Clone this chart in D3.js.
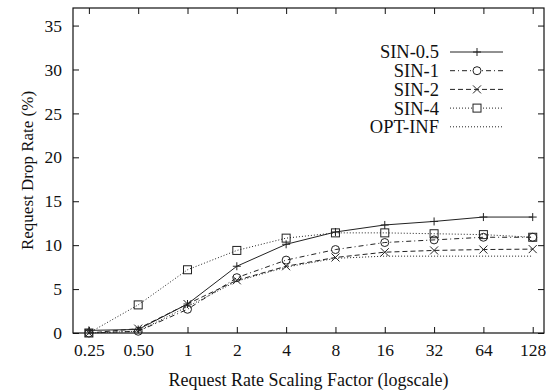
<!DOCTYPE html>
<html>
<head>
<meta charset="utf-8">
<script src="https://cdn.jsdelivr.net/npm/d3@7/dist/d3.min.js"></script>
<style>
  body { margin: 0; background: #fff; }
  svg text { font-family: "Liberation Serif", "DejaVu Serif", serif; fill: #111; }
</style>
</head>
<body>
<svg id="chart" width="546" height="390"></svg>
<script>
// data
const factors = [0.25, 0.5, 1, 2, 4, 8, 16, 32, 64, 128];
const tickLabels = ['0.25', '0.50', '1', '2', '4', '8', '16', '32', '64', '128'];
const sin05 = [0.3, 0.4, 3.3, 7.6, 10.1, 11.5, 12.3, 12.7, 13.2, 13.2];
const sin1 = [0.0, 0.2, 2.7, 6.3, 8.3, 9.5, 10.3, 10.6, 10.9, 10.9];
const sin2 = [0.0, 0.5, 3.3, 6.0, 7.6, 8.6, 9.2, 9.4, 9.5, 9.55];
const sin4 = [0.0, 3.2, 7.2, 9.4, 10.8, 11.4, 11.4, 11.3, 11.2, 10.9];
const optInf = [0.0, 0.2, 3.0, 5.9, 7.5, 8.5, 8.75, 8.75, 8.75, 8.75];
const yTicks = [0, 5, 10, 15, 20, 25, 30, 35];

const series = [
  { name: 'SIN-0.5', values: sin05, dash: null, marker: 'plus' },
  { name: 'SIN-1', values: sin1, dash: '5,3,1,3', marker: 'circle' },
  { name: 'SIN-2', values: sin2, dash: '5,3', marker: 'cross' },
  { name: 'SIN-4', values: sin4, dash: '1,2', marker: 'square' },
  { name: 'OPT-INF', values: optInf, dash: '1,2', marker: null },
];

const svg = d3.select('#chart');
const margin = { left: 73, right: 2, top: 8, bottom: 57 };
const width = 546 - margin.left - margin.right;
const height = 390 - margin.top - margin.bottom;

const x = d3.scaleLog().base(2).domain([0.2, 150]).range([0, width]);
const y = d3.scaleLinear().domain([0, 37]).range([height, 0]);

const g = svg.append('g').attr('transform', `translate(${margin.left},${margin.top})`);

function drawMarker(sel, type) {
  const s = 4;
  if (type === 'plus') {
    sel.append('path').attr('d', `M${-s},0H${s}M0,${-s}V${s}`);
  } else if (type === 'circle') {
    sel.append('circle').attr('r', s);
  } else if (type === 'cross') {
    sel.append('path').attr('d', `M${-s},${-s}L${s},${s}M${-s},${s}L${s},${-s}`);
  } else if (type === 'square') {
    sel.append('rect').attr('x', -s).attr('y', -s).attr('width', 2 * s).attr('height', 2 * s);
  }
}

// axes with inward ticks on all four sides
const axisStyle = (a) => {
  a.select('.domain').remove();
  a.selectAll('line').attr('stroke', '#111').attr('stroke-width', 1);
};

g.append('g').attr('transform', `translate(0,${height})`)
  .call(d3.axisBottom(x).tickValues(factors).tickSizeInner(-6).tickSizeOuter(0)
    .tickPadding(11).tickFormat((d, i) => tickLabels[i]))
  .call(axisStyle)
  .selectAll('text').attr('font-size', 17.5);

g.append('g')
  .call(d3.axisTop(x).tickValues(factors).tickSizeInner(-6).tickSizeOuter(0).tickFormat(''))
  .call(axisStyle);

g.append('g')
  .call(d3.axisLeft(y).tickValues(yTicks).tickSizeInner(-6).tickSizeOuter(0).tickPadding(11))
  .call(axisStyle)
  .selectAll('text').attr('font-size', 17.5);

g.append('g').attr('transform', `translate(${width},0)`)
  .call(d3.axisRight(y).tickValues(yTicks).tickSizeInner(-6).tickSizeOuter(0).tickFormat(''))
  .call(axisStyle);

g.append('rect').attr('width', width).attr('height', height)
  .attr('fill', 'none').attr('stroke', '#111').attr('stroke-width', 1.2);

const line = d3.line().x((d, i) => x(factors[i])).y((d) => y(d));

series.forEach((s) => {
  g.append('path')
    .datum(s.values)
    .attr('d', line)
    .attr('fill', 'none')
    .attr('stroke', '#222')
    .attr('stroke-width', 1)
    .attr('stroke-dasharray', s.dash);

  if (s.marker) {
    g.append('g').selectAll('g').data(s.values).join('g')
      .attr('transform', (d, i) => `translate(${x(factors[i])},${y(d)})`)
      .attr('fill', 'none').attr('stroke', '#222').attr('stroke-width', 1)
      .each(function () { drawMarker(d3.select(this), s.marker); });
  }
});

// legend
const legend = svg.append('g').attr('transform', 'translate(439,52)');
series.forEach((s, i) => {
  const row = legend.append('g').attr('transform', `translate(0,${i * 18.7})`);
  row.append('text').attr('text-anchor', 'end').attr('dy', '0.35em')
    .attr('font-size', 18.5).text(s.name);
  row.append('line').attr('x1', 11).attr('x2', 64).attr('y1', 0).attr('y2', 0)
    .attr('stroke', '#222').attr('stroke-width', 1).attr('stroke-dasharray', s.dash);
  if (s.marker) {
    const m = row.append('g').attr('transform', 'translate(38,0)')
      .attr('fill', '#fff').attr('stroke', '#222').attr('stroke-width', 1);
    drawMarker(m, s.marker);
  }
});

// axis titles
svg.append('text').attr('x', margin.left + width / 2).attr('y', 386)
  .attr('text-anchor', 'middle').attr('font-size', 18)
  .text('Request Rate Scaling Factor (logscale)');

svg.append('text').attr('transform', `translate(27,${margin.top + height / 2}) rotate(-90)`)
  .attr('text-anchor', 'middle').attr('dy', '0.35em').attr('font-size', 17)
  .text('Request Drop Rate (%)');
</script>
</body>
</html>
